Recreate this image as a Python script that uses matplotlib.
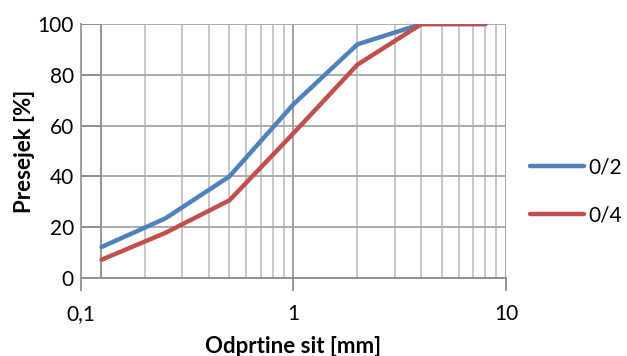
import matplotlib
matplotlib.use("Agg")
import matplotlib.pyplot as plt
from matplotlib.ticker import FixedLocator, LogLocator, NullFormatter, FixedFormatter

plt.rcParams['font.family'] = ['Lato', 'DejaVu Sans']

# Sieve openings [mm] and cumulative passing [%]
sieves = [0.125, 0.25, 0.5, 1, 2, 4, 8]
passing_02 = [12.2, 23.5, 40, 68.4, 92, 100, 100]
passing_04 = [7.2, 17.8, 30.6, 57, 84, 100, 100]
series_names = ["0/2", "0/4"]
series_colors = ["#4F81BD", "#C0504D"]

x_ticks = [0.1, 1, 10]
x_ticklabels = ["0,1", "1", "10"]
y_ticks = [0, 20, 40, 60, 80, 100]

fig = plt.figure(figsize=(6.27, 3.56), dpi=100)
ax = fig.add_axes([0.129, 0.219, 0.678, 0.7135])

ax.set_xscale("log")
ax.set_xlim(0.1, 10)
ax.set_ylim(0, 100)

# Grid: major and minor verticals, horizontals at y ticks
ax.xaxis.set_major_locator(FixedLocator(x_ticks))
ax.xaxis.set_major_formatter(FixedFormatter(x_ticklabels))
ax.xaxis.set_minor_locator(LogLocator(base=10, subs=range(2, 10)))
ax.xaxis.set_minor_formatter(NullFormatter())
ax.set_yticks(y_ticks)

ax.grid(which="minor", axis="x", color="#c4c4c4", linewidth=1.3)
ax.grid(which="major", axis="x", color="#9a9a9a", linewidth=1.3)
ax.grid(which="major", axis="y", color="#a6a6a6", linewidth=1.3)
ax.set_axisbelow(True)

# Vertical axis crossing at the first sieve
ax.axvline(sieves[0], color="#8c8c8c", linewidth=1.3, zorder=1)
ax.hlines(y_ticks, 0.1, sieves[0], color="#8c8c8c", linewidth=1.3, zorder=1)

for spine in ["top", "right"]:
    ax.spines[spine].set_visible(False)
ax.spines["left"].set_color("#9a9a9a")
ax.spines["bottom"].set_color("#8c8c8c")
ax.spines["left"].set_linewidth(1.3)
ax.spines["bottom"].set_linewidth(1.3)

ax.tick_params(axis="x", which="major", length=9, color="#8c8c8c", width=1.3,
               labelsize=15, pad=10)
ax.tick_params(axis="x", which="minor", length=0)
ax.tick_params(axis="y", length=0, labelsize=15, pad=5)

lines = []
for vals, name, col in zip([passing_02, passing_04], series_names, series_colors):
    ln, = ax.plot(sieves, vals, color=col, linewidth=3.2, label=name,
                  solid_capstyle="round", zorder=3)
    lines.append(ln)

ax.set_xlabel("Odprtine sit [mm]", fontsize=16, fontweight="bold", labelpad=8)
ax.set_ylabel("Presejek [%]", fontsize=16, fontweight="bold", labelpad=2)

fig.legend(handles=lines, loc="center left", bbox_to_anchor=(0.8325, 0.463),
           frameon=False, fontsize=15, handlelength=2.6, handletextpad=0.2,
           labelspacing=1.35, borderaxespad=0)

fig.savefig("out.png", dpi=100)
